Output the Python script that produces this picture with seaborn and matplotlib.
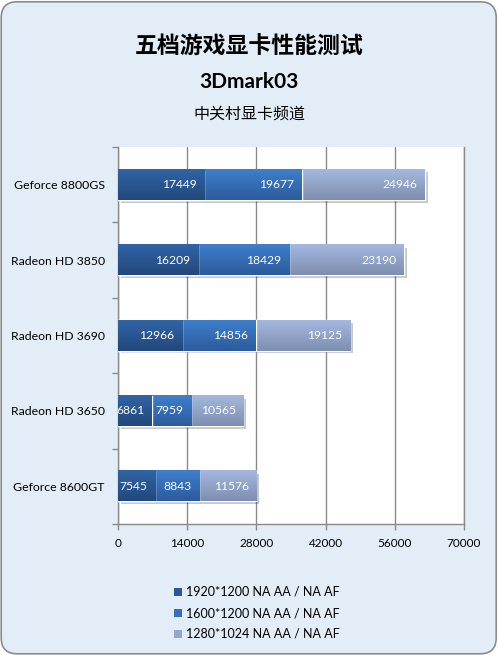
import numpy as np
import pandas as pd
import matplotlib
matplotlib.use("Agg")
import matplotlib.pyplot as plt
import seaborn as sns
from matplotlib.patches import FancyBboxPatch, Patch
from matplotlib import patheffects as pe
from matplotlib.colors import to_rgb

# ---- data ----
cards = ["Geforce 8800GS", "Radeon HD 3850", "Radeon HD 3690", "Radeon HD 3650", "Geforce 8600GT"]
res_1920 = [17449, 16209, 12966, 6861, 7545]
res_1600 = [19677, 18429, 14856, 7959, 8843]
res_1280 = [24946, 23190, 19125, 10565, 11576]
series_labels = ["1920*1200 NA AA / NA AF", "1600*1200 NA AA / NA AF", "1280*1024 NA AA / NA AF"]
x_ticks = [0, 14000, 28000, 42000, 56000, 70000]
title = "五档游戏显卡性能测试"
subtitle = "3Dmark03"
source = "中关村显卡频道"

sns.set_style("white")
plt.rcParams['font.family'] = ['Lato', 'Noto Sans CJK SC', 'DejaVu Sans']
plt.rcParams['text.color'] = 'black'
plt.rcParams['xtick.color'] = 'black'
plt.rcParams['ytick.color'] = 'black'
plt.rcParams['axes.labelcolor'] = 'black'

W, H = 498, 655
fig = plt.figure(figsize=(W / 100, H / 100), dpi=100, facecolor='white')
frame = FancyBboxPatch((0.012, 0.012), 4.95, 6.52,
                       boxstyle="round,pad=0,rounding_size=0.16",
                       transform=fig.dpi_scale_trans, facecolor='#E3EDF7',
                       edgecolor='#8C8C8C', lw=1.2, zorder=0)
fig.patches.append(frame)

ax = fig.add_axes([118 / W, 1 - 524 / H, (464 - 118) / W, (524 - 147) / H])
ax.set_zorder(2)
ax.set_facecolor('white')

series = [res_1920, res_1600, res_1280]
cum = np.cumsum(np.array(series), axis=0)
df = pd.DataFrame({'card': cards, 'c1': cum[0], 'c2': cum[1], 'c3': cum[2]})

base_colors = ['#2A5896', '#3570BA', '#93A6CC']
grads = [('#3065A6', '#22477B'), ('#3E7FCC', '#2C5B9B'), ('#A4B8DF', '#7E8EAF')]

layers = [('c3', 2), ('c2', 1), ('c1', 0)]
for col, k in layers:
    sns.barplot(data=df, y='card', x=col, orient='h', color=base_colors[k],
                width=0.4, ax=ax, saturation=1, errorbar=None, zorder=2 + (2 - k))

# gradients + shadow
for ci, (col, k) in enumerate(layers):
    cont = ax.containers[ci]
    top, bot = np.array(to_rgb(grads[k][0])), np.array(to_rgb(grads[k][1]))
    t = np.linspace(0, 1, 64)[:, None]
    img = (top * (1 - t) + bot * t)[:, None, :]
    z = 2 + (2 - k)
    for p in cont.patches:
        x0, y0, w, h = p.get_x(), p.get_y(), p.get_width(), p.get_height()
        if k == 2:
            p.set_path_effects([pe.SimplePatchShadow(offset=(2, -2), shadow_rgbFace='#000000', alpha=0.22),
                                pe.Normal()])
        ax.imshow(img, extent=(x0, x0 + w, y0 + h, y0), origin='upper',
                  aspect='auto', zorder=z + 0.1, interpolation='bilinear')

ax.set_xlim(0, 70000)
ax.set_ylim(4.5, -0.5)

# value labels
for k in range(3):
    for j in range(len(cards)):
        ax.annotate(str(series[k][j]), xy=(cum[k][j], j), xytext=(-5.5, 0),
                    textcoords='offset points', ha='right', va='center',
                    color='white', fontsize=8.7, zorder=10, clip_on=True)

gray = '#8A8A8A'
ax.set_xticks(x_ticks)
ax.set_xticklabels([str(v) for v in x_ticks])
ax.grid(axis='x', color=gray, lw=1)
ax.grid(axis='y', visible=False)
ax.set_axisbelow(True)
ax.spines['top'].set_visible(False)
for s in ['left', 'bottom', 'right']:
    ax.spines[s].set_color(gray)
    ax.spines[s].set_linewidth(1)

ax.set_yticks(range(len(cards)))
ax.set_yticklabels(cards)
ax.set_yticks(np.arange(-0.5, len(cards), 1), minor=True)
ax.tick_params(axis='y', which='major', length=0, pad=9.5, labelsize=8.8, labelcolor='black')
ax.tick_params(axis='y', which='minor', length=4, color=gray, width=1, direction='out', left=True)
ax.tick_params(axis='x', which='major', length=4, color=gray, width=1, pad=6, labelsize=8.5,
               direction='out', bottom=True, labelcolor='black')
ax.set_xlabel('')
ax.set_ylabel('')

fig.text(0.5, 1 - 47 / H, title, ha='center', va='center', fontsize=16.5,
         fontweight='bold', family=['Noto Sans CJK SC', 'DejaVu Sans'])
fig.text(0.5, 1 - 82 / H, subtitle, ha='center', va='center', fontsize=15,
         fontweight='bold')
fig.text(0.5, 1 - 114 / H, source, ha='center', va='center', fontsize=11.5,
         family=['Noto Sans CJK SC', 'DejaVu Sans'])

handles = [Patch(facecolor=base_colors[k], edgecolor='none') for k in range(3)]
leg = fig.legend(handles, series_labels, loc='center left', bbox_to_anchor=(174 / W, 1 - 613 / H),
                 frameon=False, fontsize=9, handlelength=0.6, handleheight=0.6,
                 handletextpad=0.35, labelspacing=0.72, borderpad=0, borderaxespad=0)
for txt in leg.get_texts():
    txt.set_color('black')

fig.savefig('out.png', dpi=100, facecolor='white')
